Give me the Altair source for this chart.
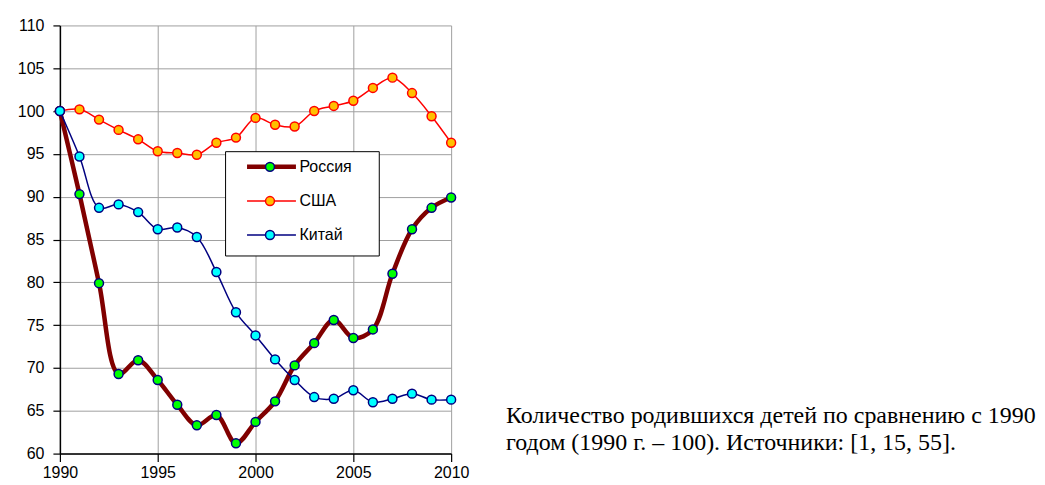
import altair as alt
import pandas as pd

years = list(range(1990, 2011))
russia = [100, 90.3, 79.9, 69.3, 70.9, 68.6, 65.7, 63.3, 64.5, 61.2, 63.7,
          66.1, 70.3, 72.9, 75.6, 73.5, 74.5, 81.0, 86.2, 88.7, 89.9]
usa = [100, 100.2, 99.0, 97.8, 96.7, 95.3, 95.1, 94.9, 96.3, 96.9, 99.2,
       98.4, 98.2, 100.0, 100.6, 101.2, 102.7, 103.9, 102.1, 99.4, 96.3]
china = [100, 94.7, 88.7, 89.1, 88.2, 86.2, 86.4, 85.3, 81.2, 76.5, 73.8,
         71.0, 68.6, 66.6, 66.4, 67.4, 66.0, 66.4, 67.0, 66.3, 66.3]

series_names = ["Россия", "США", "Китай"]
series_values = [russia, usa, china]
line_colors = ["#800000", "#ff0000", "#000080"]
line_widths = [4.5, 1.5, 1.5]
marker_fills = ["#00ff00", "#ffc000", "#00ffff"]
marker_strokes = ["#000080", "#ff0000", "#000080"]

x_ticks = [1990, 1995, 2000, 2005, 2010]
y_ticks = [60, 65, 70, 75, 80, 85, 90, 95, 100, 105, 110]

caption_lines = ["Количество родившихся детей по сравнению с 1990",
                 "годом (1990 г. – 100). Источники: [1, 15, 55]."]

W, H = 392, 429
x_scale = alt.Scale(domain=[1990, 2010], nice=False, zero=False)
y_scale = alt.Scale(domain=[60, 110], nice=False, zero=False)

axis_style = dict(labelFont="Liberation Sans", labelFontSize=16, labelColor="black",
                  tickColor="black", domainColor="black", domainWidth=1.5,
                  tickWidth=1.2, gridColor="#a0a0a0", gridWidth=1, grid=True,
                  title=None, labelFlush=False, labelOverlap=False)
x_axis = alt.Axis(values=x_ticks, format="d", tickSize=8, labelPadding=3,
                  **axis_style)
y_axis = alt.Axis(values=y_ticks, tickSize=7, labelPadding=9, **axis_style)

layers = []
for i, name in enumerate(series_names):
    df = pd.DataFrame({"year": years, "value": series_values[i], "series": name})
    base = alt.Chart(df).encode(
        x=alt.X("year:Q", scale=x_scale, axis=x_axis),
        y=alt.Y("value:Q", scale=y_scale, axis=y_axis),
    )
    line = base.mark_line(color=line_colors[i], strokeWidth=line_widths[i],
                          interpolate="catmull-rom")
    pts = base.mark_point(filled=True, shape="circle", size=80,
                          fill=marker_fills[i], stroke=marker_strokes[i],
                          strokeWidth=1.5, opacity=1)
    layers += [line, pts]

# legend box (manual, Excel style)
one = pd.DataFrame({"k": [0]})
box = alt.Chart(one).mark_rect(fill="white", stroke="black", strokeWidth=1).encode(
    x=alt.value(166), x2=alt.value(320), y=alt.value(126.5), y2=alt.value(231))
layers.append(box)
leg_y = [141.7, 176, 210]
for i, name in enumerate(series_names):
    layers.append(alt.Chart(one).mark_rule(color=line_colors[i],
                                           strokeWidth=line_widths[i]).encode(
        x=alt.value(187.5), x2=alt.value(236.5), y=alt.value(leg_y[i])))
    layers.append(alt.Chart(one).mark_point(filled=True, shape="circle", size=80,
                                            fill=marker_fills[i],
                                            stroke=marker_strokes[i],
                                            strokeWidth=1.5, opacity=1).encode(
        x=alt.value(210.5), y=alt.value(leg_y[i])))
    layers.append(alt.Chart(one).mark_text(text=name, align="left", baseline="middle",
                                           font="Liberation Sans", fontSize=16,
                                           color="black").encode(
        x=alt.value(240), y=alt.value(leg_y[i])))

cap_y = [398, 425]
for j, t in enumerate(caption_lines):
    layers.append(alt.Chart(one).mark_text(text=t, align="left", baseline="alphabetic",
                                           font="Liberation Serif", fontSize=24,
                                           color="black").encode(
        x=alt.value(447), y=alt.value(cap_y[j])))

chart = alt.layer(*layers).properties(
    width=W, height=H,
    background="white",
    autosize=alt.AutoSizeParams(type="none"),
    padding={"left": 52, "top": 17, "right": 587, "bottom": 26},
).configure_view(stroke=None)

chart.save("out.html", embed_options={"renderer": "svg", "actions": False})
